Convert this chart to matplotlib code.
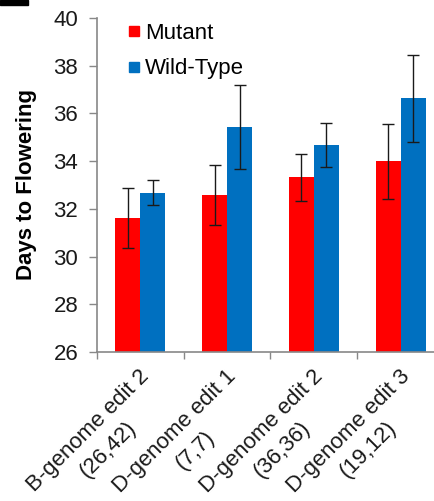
import matplotlib
matplotlib.use("Agg")
import matplotlib.pyplot as plt
import numpy as np
from matplotlib.lines import Line2D
from matplotlib.patches import Rectangle
from matplotlib.transforms import ScaledTranslation

cat_names = ["B-genome edit 2", "D-genome edit 1", "D-genome edit 2", "D-genome edit 3"]
cat_counts = ["(26,42)", "(7,7)", "(36,36)", "(19,12)"]
mutant = [31.63, 32.58, 33.32, 33.99]
mutant_err = [1.25, 1.25, 0.97, 1.56]
wild = [32.68, 35.43, 34.66, 36.63]
wild_err = [0.52, 1.76, 0.92, 1.84]
series_names = ["Mutant", "Wild-Type"]
yticks = [26, 28, 30, 32, 34, 36, 38, 40]

RED = "#FF0000"
BLUE = "#0070C0"
GRAY = "#888888"
TXT = "#1a1a1a"

plt.rcParams['font.family'] = ['Liberation Sans', 'DejaVu Sans']

fig = plt.figure(figsize=(4.35, 5.01), dpi=100)
ax = fig.add_axes([97/435, 1-352/501, (444-97)/435, (352-18)/501])

x = np.arange(len(cat_names))
w = 0.287
ekw = dict(ecolor=TXT, elinewidth=1.0, capsize=4, capthick=1.0)
ax.bar(x - w/2, mutant, w, color=RED, yerr=mutant_err, error_kw=ekw, zorder=2)
ax.bar(x + w/2, wild, w, color=BLUE, yerr=wild_err, error_kw=ekw, zorder=2)

ax.set_ylim(26, 40)
ax.set_xlim(-0.5, 3.5)
ax.set_yticks(yticks)
ax.set_yticklabels([str(v) for v in yticks], fontsize=16, color=TXT)
ax.tick_params(axis='y', length=5.5, width=1, color=GRAY, pad=8)
ax.set_xticks(np.arange(-0.5, 3.6, 1.0))
ax.set_xticklabels([])
ax.tick_params(axis='x', length=5, width=1, color=GRAY)

# category labels: two rotated lines per category
base = ax.get_xaxis_transform()
for i in range(len(cat_names)):
    t1 = base + ScaledTranslation(-0.52, -0.79, fig.dpi_scale_trans)
    t2 = base + ScaledTranslation(-0.32, -0.98, fig.dpi_scale_trans)
    ax.text(x[i], 0, cat_names[i], transform=t1, rotation=45,
            rotation_mode='anchor', ha='center', va='center',
            fontsize=16, color=TXT, clip_on=False)
    ax.text(x[i], 0, cat_counts[i], transform=t2, rotation=45,
            rotation_mode='anchor', ha='center', va='center',
            fontsize=16, color=TXT, clip_on=False)

for s in ['top', 'right']:
    ax.spines[s].set_visible(False)
for s in ['left', 'bottom']:
    ax.spines[s].set_color(GRAY)
    ax.spines[s].set_linewidth(1.2)

ax.set_ylabel("Days to Flowering", fontsize=16, fontweight='bold', labelpad=12)

handles = [Line2D([], [], marker='s', color=c, linestyle='none', markersize=7.5)
           for c in (RED, BLUE)]
leg = ax.legend(handles, series_names, loc='upper left',
                bbox_to_anchor=(0.064, 1.012), frameon=False, fontsize=16,
                handlelength=0.5, handletextpad=0.25, labelspacing=0.65,
                borderaxespad=0)

fig.patches.append(Rectangle((0, 1-5/501), 28/435, 5/501, transform=fig.transFigure,
                             color='black', zorder=5))

fig.savefig("out.png", dpi=100)
